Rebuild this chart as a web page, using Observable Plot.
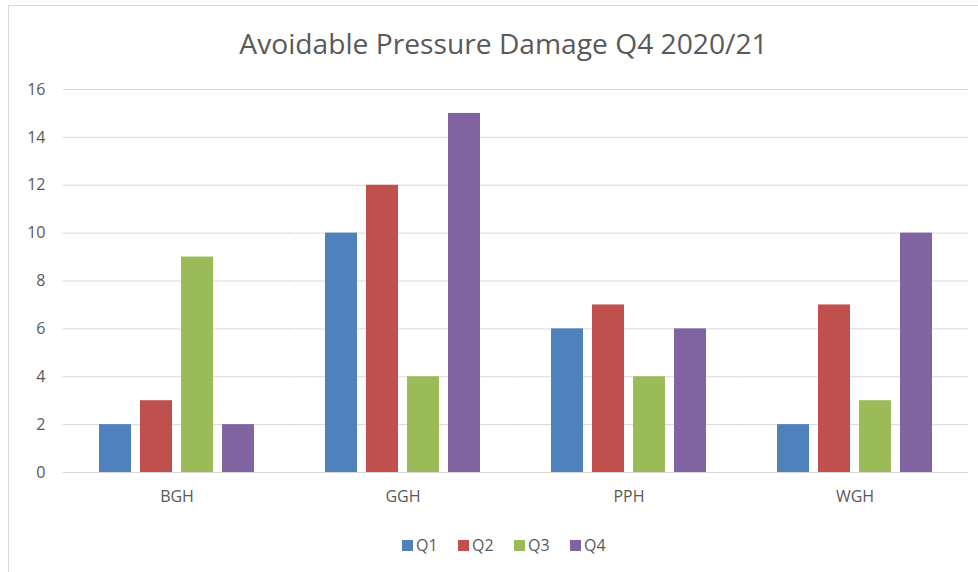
<!DOCTYPE html>
<html>
<head>
<meta charset="utf-8">
<script src="https://cdn.jsdelivr.net/npm/d3@7"></script>
<script src="https://cdn.jsdelivr.net/npm/@observablehq/plot@0.6"></script>
<style>
  html, body { margin: 0; padding: 0; background: #fff; }
  body { width: 978px; height: 572px; position: relative; overflow: hidden; font-family: "Open Sans", sans-serif; }
  #frame { position: absolute; left: 8px; top: 5px; width: 990px; height: 600px; border: 1px solid #d9d9d9; box-sizing: border-box; }
  #title { position: absolute; left: 0; top: 23px; width: 1007px; text-align: center; font-size: 28.2px; line-height: 40px; color: #595959; white-space: nowrap; }
  #chart { position: absolute; left: 0; top: 0; }
  #legend { position: absolute; left: 402px; top: 533px; }
  .leg-swatches { display: flex; align-items: center; font: 16px "Open Sans", sans-serif; color: #595959; min-height: 24px; }
  .leg-swatch { display: inline-flex; align-items: center; width: 56px; margin: 0 !important; }
  .leg-swatch svg { margin-right: 3px !important; }
</style>
</head>
<body>
<div id="frame"></div>
<div id="chart"></div>
<div id="title">Avoidable Pressure Damage Q4 2020/21</div>
<div id="legend"></div>
<script>
const sites = ["BGH", "GGH", "PPH", "WGH"];
const quarters = ["Q1", "Q2", "Q3", "Q4"];
const q1 = [2, 10, 6, 2];
const q2 = [3, 12, 7, 7];
const q3 = [9, 4, 4, 3];
const q4 = [2, 15, 6, 10];
const yTicks = [0, 2, 4, 6, 8, 10, 12, 14, 16];
const colors = ["#4F81BD", "#C0504D", "#9BBB59", "#8064A2"];

const series = [q1, q2, q3, q4];
const data = [];
sites.forEach((s, i) => quarters.forEach((q, j) => data.push({site: s, quarter: q, value: series[j][i]})));

const chart = Plot.plot({
  width: 978,
  height: 572,
  marginTop: 89,
  marginBottom: 100,
  marginLeft: 62,
  marginRight: 10,
  style: {background: "transparent", fontFamily: "Open Sans, sans-serif", fontSize: "16px", color: "#595959"},
  fx: {domain: sites, paddingInner: 0.315, paddingOuter: 0.1575, label: null, axis: null},
  x: {domain: quarters, paddingInner: 0.22, paddingOuter: 0, axis: null},
  y: {domain: [0, 16], label: null},
  color: {domain: quarters, range: colors},
  marks: [
    Plot.gridY(yTicks, {stroke: "#d9d9d9", strokeOpacity: 1, strokeWidth: 1, insetLeft: -36.5, insetRight: -36}),
    Plot.axisY(yTicks, {tickSize: 0, tickPadding: 54, fill: "#595959", fontSize: 16, label: null}),
    Plot.barY(data, {fx: "site", x: "quarter", y: "value", fill: "quarter"}),
    Plot.axisFx({anchor: "bottom", tickSize: 0, tickPadding: 18, fill: "#595959", fontSize: 16, label: null})
  ]
});
document.getElementById("chart").appendChild(chart);

const leg = chart.legend("color", {className: "leg", swatchSize: 11});
document.getElementById("legend").appendChild(leg);
</script>
</body>
</html>
